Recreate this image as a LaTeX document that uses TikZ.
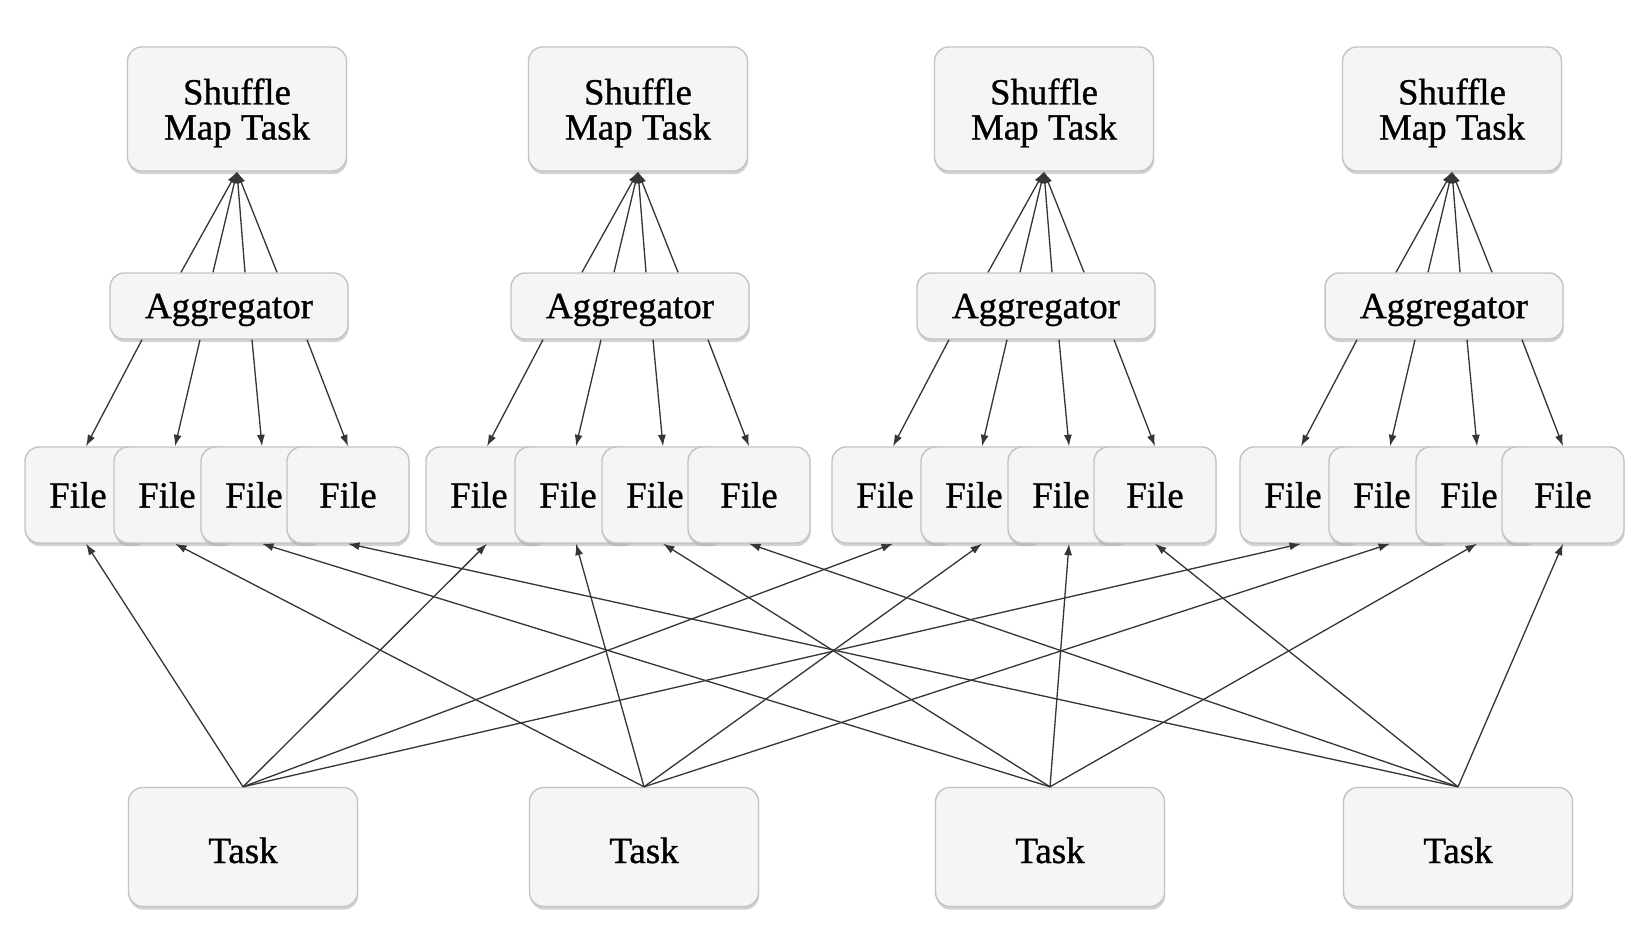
\documentclass[tikz,border=0pt]{standalone}
\usepackage{fontspec}
\setmainfont{Liberation Serif}
\newfontfamily\diagfont{Liberation Serif}[FakeBold=0.8]
\usepackage{xcolor}
\usepackage{tikz}
\usetikzlibrary{shapes,arrows.meta,positioning,calc,shadows}
\definecolor{sparkbox}{HTML}{F6F4F6}
\definecolor{sparkline}{HTML}{C4C2C4}
\definecolor{sparkarrow}{HTML}{363636}

\begin{document}
\begin{tikzpicture}[x=0.02cm, y=-0.02cm,
        sparknode/.style={draw=sparkline, line width=0.8pt, rounded corners=8pt, fill=sparkbox,
            drop shadow={shadow xshift=0.4pt, shadow yshift=-1.8pt, fill=black!35},
            align=center, inner sep=0pt, font=\diagfont\fontsize{21}{20}\selectfont},
        shufflebox/.style={sparknode, minimum width=4.38cm, minimum height=2.48cm, text depth=0pt},
        aggbox/.style={sparknode, minimum width=4.76cm, minimum height=1.32cm, text depth=0pt},
        filebox/.style={sparknode, minimum width=2.44cm, minimum height=1.92cm},
        taskbox/.style={sparknode, minimum width=4.58cm, minimum height=2.38cm, text height=0.64cm, text depth=0pt},
        link/.style={draw=sparkarrow, line width=0.75pt, -{Latex[length=0.23cm,width=0.16cm]}}]
    \useasboundingbox (0,0) rectangle (1648,942);

    % one column per shuffle map task
    \foreach \g/\x in {1/229, 2/630, 3/1036, 4/1444} {
        \node[shufflebox] (shuffle\g) at (\x+8,109) {Shuffle\\Map Task};
        \node[aggbox] (agg\g) at (\x,306) {Aggregator};
        \foreach \f/\dx/\pad in {1/-143/0.32cm, 2/-54/0.32cm, 3/33/0.32cm, 4/119/0cm}
            \node[filebox] (file\g\f) at (\x+\dx,495) {File\hspace*{\pad}};
        \node[taskbox] (task\g) at (\x+14,847) {Task};
    }

    % connectors
    \foreach \g in {1,...,4} {
        \foreach \dx in {-48,-16,16,48}
            \draw[link] ($(agg\g.north)+(\dx,0)$) -- (shuffle\g.south);
        \foreach \f/\dx in {1/-87, 2/-29, 3/23, 4/78}
            \draw[link] ($(agg\g.south)+(\dx,0)$) -- (file\g\f.north);
        \foreach \t in {1,...,4}
            \draw[link] (task\t.north) -- (file\g\t.south);
    }
\end{tikzpicture}
\end{document}
